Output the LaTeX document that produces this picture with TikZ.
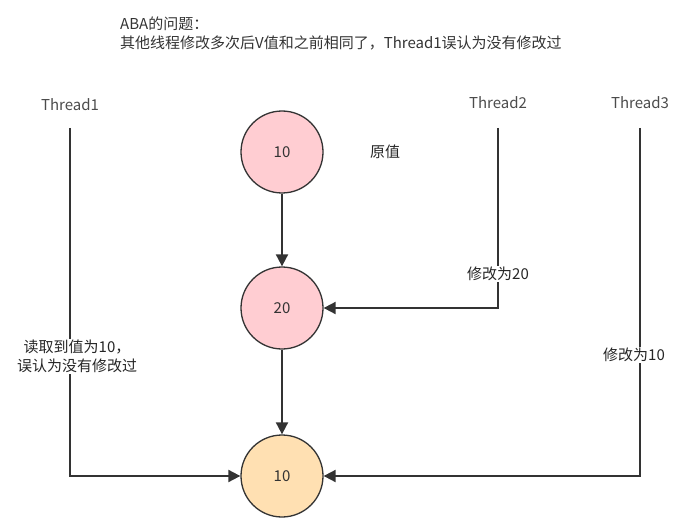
\documentclass[tikz,border=0pt]{standalone}
\usepackage{fontspec}
\setmainfont{Noto Sans CJK SC}
\usetikzlibrary{arrows.meta}
\definecolor{valpink}{HTML}{FFCDD2}
\definecolor{valpeach}{HTML}{FFE0B2}
\definecolor{edgegray}{HTML}{333333}
\begin{document}
\begin{tikzpicture}[x=1pt, y=-1pt,
  font=\fontsize{15}{19}\selectfont,
  value/.style = {circle, draw=edgegray, line width=1.3pt, minimum size=82pt,
    inner sep=0pt, text=edgegray},
  flow/.style = {draw=edgegray, line width=1.9pt, -{Triangle[length=12pt,width=12pt]}},
  tlabel/.style = {fill=white, inner sep=1pt, align=center, text=black!85},
  thread/.style = {text=black!70}
  ]
  \useasboundingbox (0,0) rectangle (696,524);
  % title
  \node[anchor=north west, align=left, text=black!80, inner sep=0pt] (title) at (120,17)
    {ABA的问题：\\其他线程修改多次后V值和之前相同了，Thread1误认为没有修改过};
  % values
  \node[value, fill=valpink] (v10) at (282,152) {10};
  \node[value, fill=valpink] (v20) at (282,308) {20};
  \node[value, fill=valpeach] (v10b) at (282,476) {10};
  \node[text=black!85] (orig) at (385,152) {原值};
  % threads
  \node[thread] (thread1) at (70,105) {Thread1};
  \node[thread] (thread2) at (498,103) {Thread2};
  \node[thread] (thread3) at (640,103) {Thread3};
  \coordinate (t1) at (70,128);
  \coordinate (t2) at (498,128);
  \coordinate (t3) at (640,128);
  % arrows
  \draw[flow] (v10) -- (v20);
  \draw[flow] (v20) -- (v10b);
  \draw[flow] (t1) |- node[tlabel, pos=0.328, xshift=7pt] {读取到值为10，\\误认为没有修改过} (v10b);
  \draw[flow] (t2) |- node[tlabel, pos=0.405] {修改为20} (v20);
  \draw[flow] (t3) |- node[tlabel, pos=0.326, xshift=-6pt] {修改为10} (v10b);
\end{tikzpicture}
\end{document}
